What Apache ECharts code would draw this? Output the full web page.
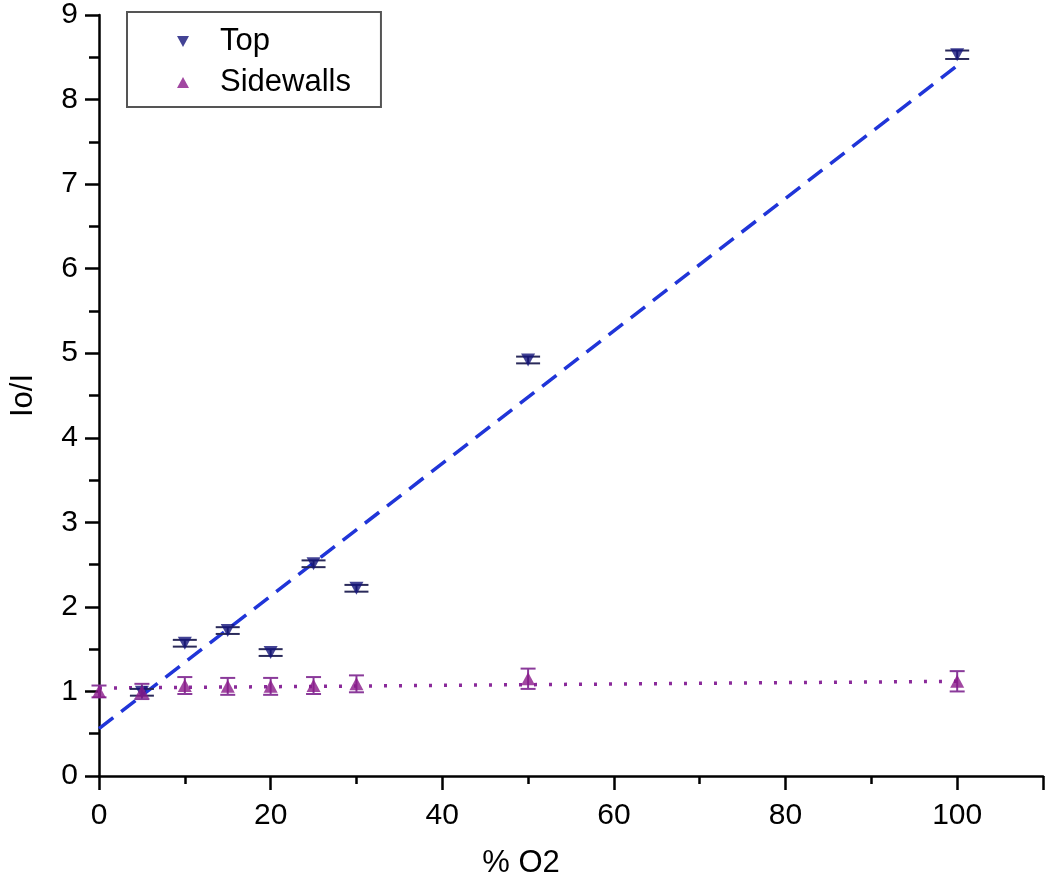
<!DOCTYPE html>
<html>
<head>
<meta charset="utf-8">
<script src="https://cdn.jsdelivr.net/npm/echarts@6/dist/echarts.min.js"></script>
<style>
html,body{margin:0;padding:0;background:#fff;}
#chart{width:1050px;height:884px;}
</style>
</head>
<body>
<div id="chart"></div>
<script>
// Data
const topX = [5, 10, 15, 20, 25, 30, 50, 100];
const topY = [0.99, 1.57, 1.72, 1.46, 2.51, 2.22, 4.92, 8.53];
const topErr = [0.04, 0.04, 0.04, 0.04, 0.04, 0.04, 0.04, 0.05];
const sideX = [0, 5, 10, 15, 20, 25, 30, 50, 100];
const sideY = [1.0, 1.0, 1.07, 1.06, 1.06, 1.07, 1.09, 1.15, 1.12];
const sideErr = [0.07, 0.09, 0.1, 0.1, 0.1, 0.1, 0.1, 0.12, 0.12];
const topFitX = [0, 100];
const topFitY = [0.56, 8.4];
const sideFitX = [0, 100];
const sideFitY = [1.04, 1.12];
const xTicks = [0, 20, 40, 60, 80, 100];

const FONT = 'Liberation Sans, Arial, sans-serif';
const topColor = '#14147a';
const sideColor = '#8a1a8a';

function errSeries(xs, ys, es, color, capW, name) {
  return {
    type: 'custom',
    name: name + ' err',
    silent: true,
    z: 3,
    data: xs.map((x, i) => [x, ys[i], es[i]]),
    renderItem: function (params, api) {
      const x = api.value(0), y = api.value(1), e = api.value(2);
      const hi = api.coord([x, y + e]);
      const lo = api.coord([x, y - e]);
      const st = { stroke: color, lineWidth: 2 };
      return {
        type: 'group',
        children: [
          { type: 'line', shape: { x1: hi[0], y1: hi[1], x2: lo[0], y2: lo[1] }, style: st },
          { type: 'line', shape: { x1: hi[0] - capW / 2, y1: hi[1], x2: hi[0] + capW / 2, y2: hi[1] }, style: st },
          { type: 'line', shape: { x1: lo[0] - capW / 2, y1: lo[1], x2: lo[0] + capW / 2, y2: lo[1] }, style: st }
        ]
      };
    }
  };
}

const downTri = 'path://M0,0 L10,0 L5,9 Z';
const upTri = 'path://M5,0 L10,9 L0,9 Z';

const chart = echarts.init(document.getElementById('chart'));
chart.setOption({
  animation: false,
  backgroundColor: '#fff',
  grid: { left: 95, top: 14, right: 7, bottom: 108, containLabel: false },
  legend: {
    left: 127, top: 12,
    orient: 'vertical',
    borderColor: '#555', borderWidth: 2,
    padding: [14, 30, 9, 50],
    itemGap: 10,
    itemWidth: 12, itemHeight: 11,
    textStyle: { fontFamily: FONT, fontSize: 31, color: '#000', padding: [0, 0, 0, 26] },
    data: [
      { name: 'Top', icon: downTri, itemStyle: { color: topColor } },
      { name: 'Sidewalls', icon: upTri, itemStyle: { color: sideColor } }
    ]
  },
  xAxis: {
    type: 'value', min: 0, max: 110, interval: 20,
    name: '% O2', nameLocation: 'middle', nameGap: 72,
    nameTextStyle: { fontFamily: FONT, fontSize: 31, color: '#000', padding: [0, 100, 0, 0] },
    axisLine: { lineStyle: { color: '#000', width: 2.5 } },
    axisTick: { length: 14, lineStyle: { color: '#000', width: 2.5 } },
    minorTick: { show: true, splitNumber: 2, length: 8, lineStyle: { color: '#000', width: 2.5 } },
    splitLine: { show: false },
    axisLabel: {
      fontFamily: FONT, fontSize: 30, color: '#000', margin: 25,
      showMaxLabel: false,
      formatter: v => (xTicks.indexOf(v) >= 0 ? String(v) : '')
    }
  },
  yAxis: {
    type: 'value', min: 0, max: 9, interval: 1,
    name: 'Io/I', nameLocation: 'middle', nameGap: 60,
    nameTextStyle: { fontFamily: FONT, fontSize: 31, color: '#000' },
    axisLine: { lineStyle: { color: '#000', width: 2.5 } },
    axisTick: { length: 14, lineStyle: { color: '#000', width: 2.5 } },
    minorTick: { show: true, splitNumber: 2, length: 10, lineStyle: { color: '#000', width: 2.5 } },
    splitLine: { show: false },
    axisLabel: { fontFamily: FONT, fontSize: 30, color: '#000', margin: 21 }
  },
  series: [
    {
      type: 'line', name: 'Top fit', silent: true, z: 2,
      data: topFitX.map((x, i) => [x, topFitY[i]]),
      showSymbol: false, symbol: 'none',
      lineStyle: { color: '#2035d8', width: 3.5, type: [18, 10] }
    },
    {
      type: 'line', name: 'Sidewalls fit', silent: true, z: 2,
      data: sideFitX.map((x, i) => [x, sideFitY[i]]),
      showSymbol: false, symbol: 'none',
      lineStyle: { color: '#8a2a9a', width: 3.5, type: [3, 12] }
    },
    errSeries(topX, topY, topErr, '#2a2a5a', 24, 'Top'),
    errSeries(sideX, sideY, sideErr, '#8a3a9a', 15, 'Sidewalls'),
    {
      type: 'scatter', name: 'Top', z: 4,
      symbol: downTri, symbolSize: [14, 13],
      itemStyle: { color: topColor },
      data: topX.map((x, i) => [x, topY[i]])
    },
    {
      type: 'scatter', name: 'Sidewalls', z: 4,
      symbol: upTri, symbolSize: [14, 13],
      itemStyle: { color: sideColor },
      data: sideX.map((x, i) => [x, sideY[i]])
    }
  ]
});
</script>
</body>
</html>
